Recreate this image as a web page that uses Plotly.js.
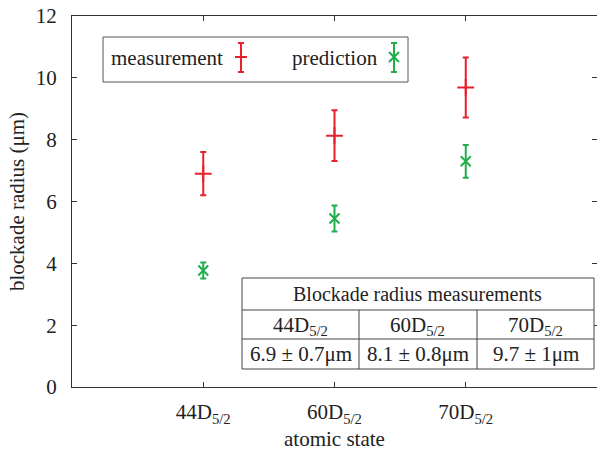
<!DOCTYPE html>
<html>
<head>
<meta charset="utf-8">
<script src="https://cdn.plot.ly/plotly-3.0.1.min.js"></script>
<style>
html,body{margin:0;padding:0;background:#fff;}
#chart{width:597px;height:451px;}
#chart text, #chart tspan { font-family: "Liberation Serif", serif !important; }
</style>
</head>
<body>
<div id="chart"></div>
<script>
// ---- data ----
var states = ['44D<sub>5/2</sub>', '60D<sub>5/2</sub>', '70D<sub>5/2</sub>'];
var statePos = [1, 2, 3];
var measured = [6.9, 8.13, 9.69];
var measuredErr = [0.7, 0.82, 0.97];
var predicted = [3.77, 5.45, 7.3];
var predictedErr = [0.26, 0.42, 0.53];
var seriesNames = ['measurement', 'prediction'];
var tableTitle = 'Blockade radius measurements';
var tableValues = ['6.9 ± 0.7μm', '8.1 ± 0.8μm', '9.7 ± 1μm'];
var yTicks = [0, 2, 4, 6, 8, 10, 12];

// ---- style ----
var RED = '#e8202e', GREEN = '#1fae4b', TXT = '#222', AX = '#333';
var FONT = 'Liberation Serif';
var W = 597, H = 451, L = 72, R = 0, T = 16, B = 64;
var PW = W - L - R, PH = H - T - B;
function px(x) { return (x - L) / PW; }
function py(y) { return (H - B - y) / PH; }

var traces = [
  {
    x: statePos, y: measured, type: 'scatter', mode: 'markers', name: seriesNames[0],
    marker: {symbol: 'cross-thin-open', size: 12, color: RED, line: {color: RED, width: 2}},
    error_y: {type: 'data', array: measuredErr, visible: true, color: RED, thickness: 2, width: 3},
    showlegend: false, cliponaxis: false
  },
  {
    x: statePos, y: predicted, type: 'scatter', mode: 'markers', name: seriesNames[1],
    marker: {symbol: 'x-thin-open', size: 10, color: GREEN, line: {color: GREEN, width: 2}},
    error_y: {type: 'data', array: predictedErr, visible: true, color: GREEN, thickness: 2, width: 3},
    showlegend: false, cliponaxis: false
  }
];

var shapes = [];
var annotations = [];

// legend box
shapes.push({type: 'rect', xref: 'paper', yref: 'paper', x0: px(103), x1: px(408), y0: py(37), y1: py(82),
  line: {color: '#555', width: 1}, fillcolor: 'rgba(0,0,0,0)'});
annotations.push({xref: 'paper', yref: 'paper', x: px(109), y: py(58), xanchor: 'left', yanchor: 'middle',
  text: seriesNames[0], showarrow: false, font: {family: FONT, size: 21, color: TXT}});
annotations.push({xref: 'paper', yref: 'paper', x: px(380), y: py(58), xanchor: 'right', yanchor: 'middle',
  text: seriesNames[1], showarrow: false, font: {family: FONT, size: 21, color: TXT}});
function legendSym(cx, col, isX) {
  var top = 43, bot = 72, mid = 57;
  var ln = {color: col, width: 2};
  shapes.push({type: 'line', xref: 'paper', yref: 'paper', x0: px(cx), x1: px(cx), y0: py(top), y1: py(bot), line: ln});
  shapes.push({type: 'line', xref: 'paper', yref: 'paper', x0: px(cx - 3), x1: px(cx + 3), y0: py(top), y1: py(top), line: ln});
  shapes.push({type: 'line', xref: 'paper', yref: 'paper', x0: px(cx - 3), x1: px(cx + 3), y0: py(bot), y1: py(bot), line: ln});
  if (isX) {
    shapes.push({type: 'line', xref: 'paper', yref: 'paper', x0: px(cx - 5), x1: px(cx + 5), y0: py(mid - 5), y1: py(mid + 5), line: ln});
    shapes.push({type: 'line', xref: 'paper', yref: 'paper', x0: px(cx - 5), x1: px(cx + 5), y0: py(mid + 5), y1: py(mid - 5), line: ln});
  } else {
    shapes.push({type: 'line', xref: 'paper', yref: 'paper', x0: px(cx - 6), x1: px(cx + 6), y0: py(mid), y1: py(mid), line: ln});
  }
}
legendSym(241, RED, false);
legendSym(394, GREEN, true);

// table
var tx0 = 242, tx1 = 594, ty0 = 278, ty1 = 310, ty2 = 339, ty3 = 369;
var cols = [242, 359, 477, 594];
var tl = {color: '#444', width: 1};
shapes.push({type: 'rect', xref: 'paper', yref: 'paper', x0: px(tx0), x1: px(tx1), y0: py(ty0), y1: py(ty3), line: tl, fillcolor: '#fff', layer: 'above'});
shapes.push({type: 'line', xref: 'paper', yref: 'paper', x0: px(tx0), x1: px(tx1), y0: py(ty1), y1: py(ty1), line: tl});
shapes.push({type: 'line', xref: 'paper', yref: 'paper', x0: px(tx0), x1: px(tx1), y0: py(ty2), y1: py(ty2), line: tl});
for (var c = 1; c < 3; c++) {
  shapes.push({type: 'line', xref: 'paper', yref: 'paper', x0: px(cols[c]), x1: px(cols[c]), y0: py(ty1), y1: py(ty3), line: tl});
}
annotations.push({xref: 'paper', yref: 'paper', x: px((tx0 + tx1) / 2), y: py((ty0 + ty1) / 2), xanchor: 'center', yanchor: 'middle',
  text: tableTitle, showarrow: false, font: {family: FONT, size: 20, color: TXT}});
for (var i = 0; i < 3; i++) {
  var cx = (cols[i] + cols[i + 1]) / 2;
  annotations.push({xref: 'paper', yref: 'paper', x: px(cx), y: py((ty1 + ty2) / 2 + 1), xanchor: 'center', yanchor: 'middle',
    text: states[i], showarrow: false, font: {family: FONT, size: 21, color: TXT}});
  annotations.push({xref: 'paper', yref: 'paper', x: px(cx), y: py((ty2 + ty3) / 2), xanchor: 'center', yanchor: 'middle',
    text: tableValues[i], showarrow: false, font: {family: FONT, size: 21, color: TXT}});
}

var layout = {
  width: W, height: H,
  margin: {l: L, r: R, t: T, b: B, pad: 0},
  paper_bgcolor: '#fff', plot_bgcolor: '#fff',
  font: {family: FONT, size: 20, color: TXT},
  showlegend: false,
  xaxis: {
    range: [0, 4], tickvals: statePos, ticktext: states,
    ticks: 'inside', ticklen: 5, tickcolor: AX, tickwidth: 1,
    showline: true, linecolor: AX, linewidth: 1, mirror: 'ticks',
    showgrid: false, zeroline: false, ticklabelstandoff: 6,
    tickfont: {family: FONT, size: 21, color: TXT},
    title: {text: 'atomic state', font: {family: FONT, size: 21, color: TXT}, standoff: 4}
  },
  yaxis: {
    range: [0, 12], tickvals: yTicks,
    ticks: 'inside', ticklen: 5, tickcolor: AX, tickwidth: 1,
    showline: true, linecolor: AX, linewidth: 1, mirror: 'ticks',
    showgrid: false, zeroline: false, ticklabelstandoff: 10,
    tickfont: {family: FONT, size: 21, color: TXT},
    title: {text: 'blockade radius (μm)', font: {family: FONT, size: 21, color: TXT}, standoff: 5}
  },
  shapes: shapes,
  annotations: annotations
};

Plotly.newPlot('chart', traces, layout, {displayModeBar: false, staticPlot: true});
</script>
</body>
</html>
